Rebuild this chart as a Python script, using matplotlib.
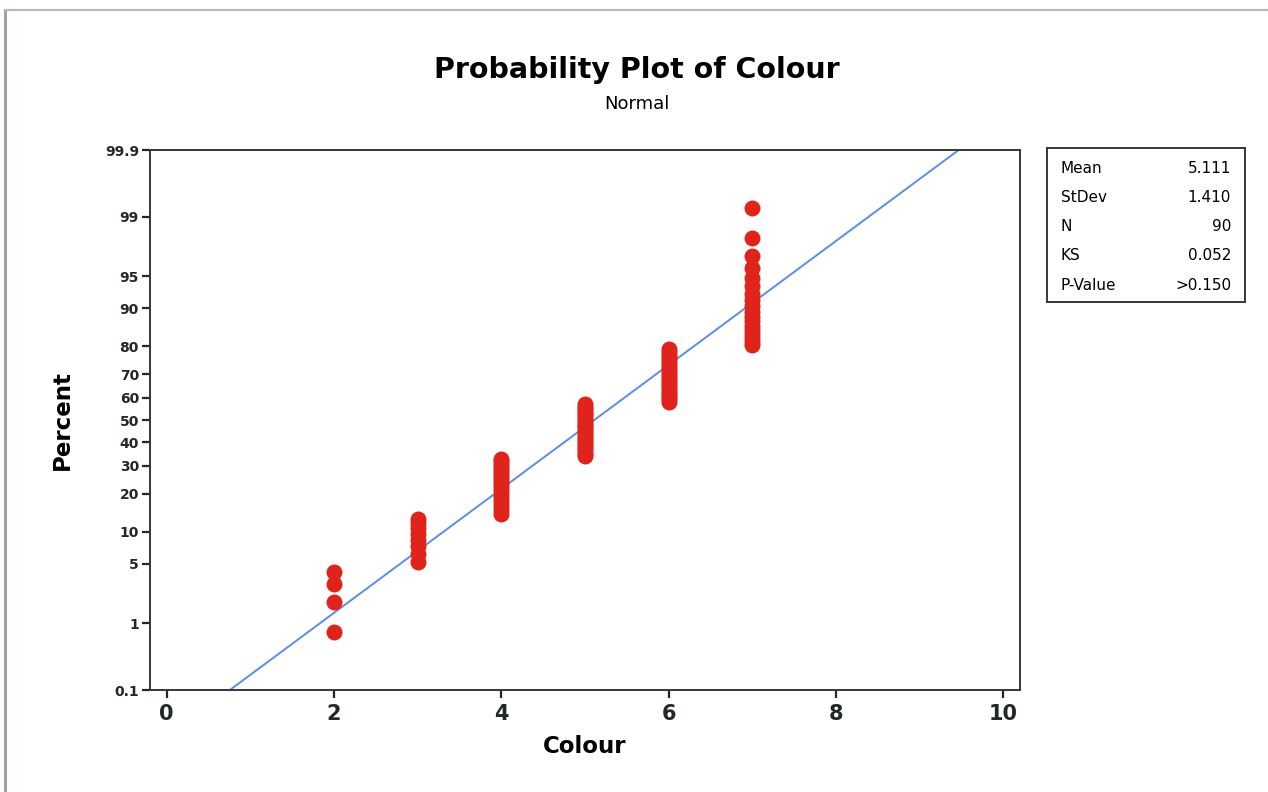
import matplotlib.pyplot as plt
import matplotlib.lines as mlines
import numpy as np
from statistics import NormalDist

# Colour scores and how many of the 90 samples had each one
colour_values = [2, 3, 4, 5, 6, 7]
colour_counts = [4, 8, 18, 22, 20, 18]

y_ticks = [0.1, 1, 5, 10, 20, 30, 40, 50, 60, 70, 80, 90, 95, 99, 99.9]
y_ticklabels = ['0.1', '1', '5', '10', '20', '30', '40', '50', '60', '70',
                '80', '90', '95', '99', '99.9']
x_ticks = [0, 2, 4, 6, 8, 10]

stat_names = ['Mean', 'StDev', 'N', 'KS', 'P-Value']
stat_values = ['5.111', '1.410', '90', '0.052', '>0.150']

nd = NormalDist()
_ppf = np.vectorize(nd.inv_cdf, otypes=[float])
_cdf = np.vectorize(nd.cdf, otypes=[float])


def prob_forward(p):
    p = np.clip(np.asarray(p, dtype=float) / 100.0, 1e-9, 1 - 1e-9)
    return _ppf(p)


def prob_inverse(z):
    return _cdf(np.asarray(z, dtype=float)) * 100.0


# median ranks (Benard), as Minitab does
sample = np.repeat(colour_values, colour_counts).astype(float)
n = len(sample)
ranks = np.arange(1, n + 1)
percent = (ranks - 0.3) / (n + 0.4) * 100
mean = sample.mean()
sd = sample.std(ddof=1)

line_pct = np.array([0.1, 99.9])
line_x = mean + sd * prob_forward(line_pct)

fig = plt.figure(figsize=(12.68, 7.92), dpi=100)
ax = fig.add_axes([150 / 1268, 1 - 690 / 792, 870 / 1268, 540 / 792])
ax.set_yscale('function', functions=(prob_forward, prob_inverse))

ax.plot(line_x, line_pct, color='#5b8de6', lw=1.4, zorder=2)
ax.plot(sample, percent, 'o', color='#e0231b', markersize=11.5,
        markeredgewidth=0, zorder=3)

ax.set_xlim(-0.2, 10.2)
ax.set_ylim(0.1, 99.9)
ax.set_xticks(x_ticks)
ax.set_yticks(y_ticks)
ax.set_yticklabels(y_ticklabels)
ax.minorticks_off()
ax.tick_params(axis='x', labelsize=15, length=6, width=1.6, colors='#222828', pad=4)
ax.tick_params(axis='y', labelsize=10, length=6, width=1.6, colors='#222828', pad=2)
for lab in ax.get_xticklabels() + ax.get_yticklabels():
    lab.set_fontweight('bold')
for s in ax.spines.values():
    s.set_color('#333838')
    s.set_linewidth(1.4)

ax.set_xlabel('Colour', fontsize=16.5, fontweight='bold', labelpad=8)
ax.set_ylabel('Percent', fontsize=16.5, fontweight='bold', labelpad=22)

fig.text(0.502, 1 - 78 / 792, 'Probability Plot of Colour', ha='center',
         va='baseline', fontsize=20.5, fontweight='bold')
fig.text(0.502, 1 - 109 / 792, 'Normal', ha='center', va='baseline', fontsize=13)

# statistics box
box = fig.add_axes([1047 / 1268, 1 - 302 / 792, 198 / 1268, 154 / 792])
box.set_xticks([])
box.set_yticks([])
for s in box.spines.values():
    s.set_color('#333838')
    s.set_linewidth(1.4)
for k, (name, val) in enumerate(zip(stat_names, stat_values)):
    yy = 0.87 - k * 0.19
    box.text(0.07, yy, name, fontsize=11, va='center', ha='left')
    box.text(0.93, yy, val, fontsize=11, va='center', ha='right')

# grey frame of the graph window
fx = 5 / 1268
fy = 1 - 10 / 792
fig.add_artist(mlines.Line2D([fx, fx], [0, fy], color='#9aa2aa', lw=2.2))
fig.add_artist(mlines.Line2D([fx, 1], [fy, fy], color='#b4bac0', lw=1.6))

fig.savefig('out.png', dpi=100)
